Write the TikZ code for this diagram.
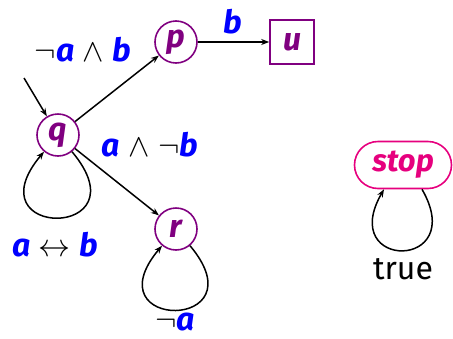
\RequirePackage{fix-cm}
\documentclass[tikz,border=0pt]{standalone}
\usepackage{fontspec}
\setmainfont{Fira Sans}
\usetikzlibrary{arrows.meta,shapes.misc}
\definecolor{stpurple}{HTML}{800080}
\definecolor{propblue}{HTML}{0000FF}
\definecolor{stoppink}{HTML}{E6007E}
\newcommand{\pv}[1]{\textcolor{propblue}{\bfseries\itshape #1}}
\newcommand{\negsym}{$\neg$}
\newcommand{\andsym}{$\wedge$}
\newcommand{\iffsym}{$\leftrightarrow$}
\tikzset{
  state/.style={circle,draw=stpurple,line width=1.6pt,minimum size=42pt,inner sep=0pt,
    text=stpurple,font=\fontsize{32}{34}\selectfont\bfseries\itshape},
  final/.style={rectangle,draw=stpurple,line width=1.6pt,minimum size=44pt,inner sep=0pt,
    text=stpurple,font=\fontsize{32}{34}\selectfont\bfseries\itshape},
  stopstate/.style={rounded rectangle,draw=stoppink,line width=1.6pt,minimum width=97pt,
    minimum height=47pt,inner sep=0pt,text=stoppink,font=\fontsize{31}{33}\selectfont\bfseries\itshape},
  lbl/.style={inner sep=0pt,font=\fontsize{32}{34}\selectfont},
  trans/.style={->,line width=1.5pt}
}
\begin{document}
\begin{tikzpicture}[x=1pt,y=-1pt,>={Stealth[length=8pt,width=6pt]}]
\useasboundingbox (0,0) rectangle (453,338);
\node[state] (q) at (58,135) {q};
\node[state] (p) at (176,42) {p};
\node[state] (r) at (176,229) {r};
\node[final] (u) at (292,42) {u};
\node[stopstate] (stop) at (403,165) {stop};
\coordinate (init) at (24,78);
% transitions
\draw[trans] (init) -- (q);
\draw[trans] (q) -- (p);
\draw[trans] (q) -- (r);
\draw[trans] (p) -- (u);
\draw[trans] (q.-50) to[out=-50,in=-130,distance=115] (q.-130);
\draw[trans] (r.-50) to[out=-50,in=-130,distance=112] (r.-130);
\draw[trans] ([xshift=19pt]stop.south) to[out=-60,in=-120,distance=94] ([xshift=-19pt]stop.south);
% labels
\node[lbl] (lqp) at (83,50) {\negsym\pv{a} \andsym{} \pv{b}};
\node[lbl] (lpu) at (233,22) {\pv{b}};
\node[lbl] (lqr) at (150,145) {\pv{a} \andsym{} \negsym\pv{b}};
\node[lbl] (lqq) at (55,245) {\pv{a} \iffsym{} \pv{b}};
\node[lbl] (lrr) at (175,322) {\negsym\pv{a}};
\node[lbl] (lss) at (403,269) {true};
\end{tikzpicture}
\end{document}
